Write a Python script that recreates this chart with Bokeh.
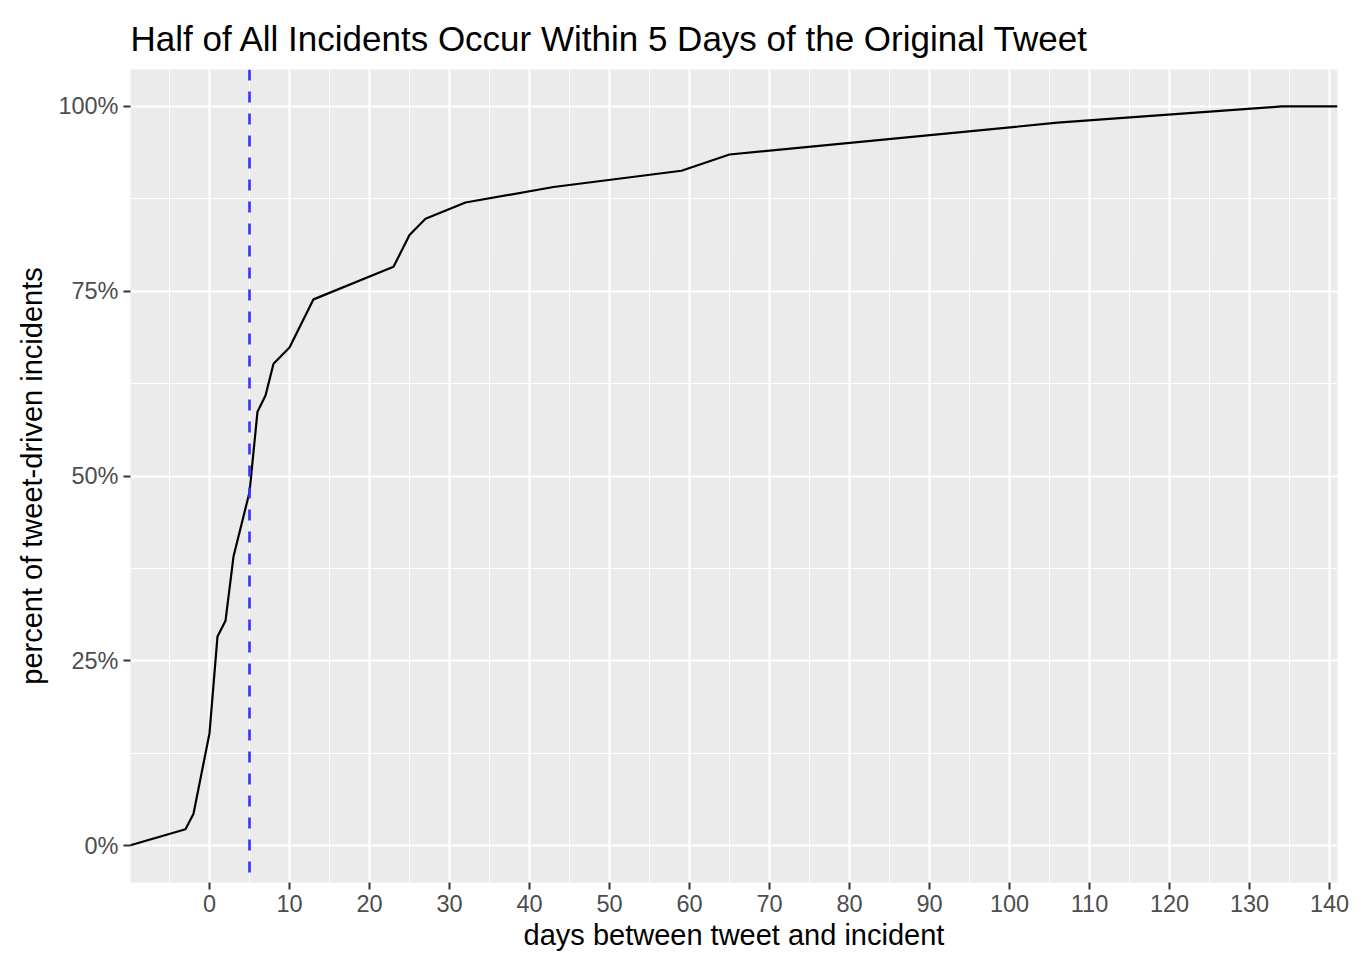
from bokeh.plotting import figure
from bokeh.models import Range1d, FixedTicker, Span
from bokeh.embed import file_html
from bokeh.resources import INLINE

# ---- data ----
days = [-10, -3, -2, 0, 1, 2, 3, 5, 6, 7, 8, 10, 13, 23, 25, 27, 32, 43, 59, 65, 106, 134, 141]
pct = [0.0, 2.2, 4.3, 15.2, 28.3, 30.4, 39.1, 47.8, 58.7, 60.9, 65.2, 67.4, 73.9,
       78.3, 82.6, 84.8, 87.0, 89.1, 91.3, 93.5, 97.8, 100.0, 100.0]
cutoff_day = 5

x_ticks = [0, 10, 20, 30, 40, 50, 60, 70, 80, 90, 100, 110, 120, 130, 140]
x_minor = [-5, 5, 15, 25, 35, 45, 55, 65, 75, 85, 95, 105, 115, 125, 135]
y_ticks = [0, 25, 50, 75, 100]
y_tick_labels = ["0%", "25%", "50%", "75%", "100%"]
y_minor = [12.5, 37.5, 62.5, 87.5]

title_text = "Half of All Incidents Occur Within 5 Days of the Original Tweet"
x_label = "days between tweet and incident"
y_label = "percent of tweet-driven incidents"

FONT = "Liberation Sans"

p = figure(
    frame_width=1207, frame_height=813,
    x_range=Range1d(-9.875, 141), y_range=Range1d(-5, 105),
    output_backend="svg", toolbar_location=None,
    min_border_left=130, min_border_right=27, min_border_top=69, min_border_bottom=86,
)
p.background_fill_color = "#EBEBEB"
p.border_fill_color = "white"
p.outline_line_color = None

p.title.text = title_text
p.title.text_font = FONT
p.title.text_font_size = "35px"
p.title.text_font_style = "normal"
p.title.text_color = "black"
p.title.align = "left"
p.title.standoff = 23

p.xaxis.ticker = FixedTicker(ticks=x_ticks, minor_ticks=x_minor)
p.yaxis.ticker = FixedTicker(ticks=y_ticks, minor_ticks=y_minor)
p.yaxis.major_label_overrides = {t: l for t, l in zip(y_ticks, y_tick_labels)}

for ax in (p.xaxis, p.yaxis):
    ax.axis_line_color = None
    ax.major_tick_line_color = "#333333"
    ax.major_tick_line_width = 2
    ax.major_tick_out = 7
    ax.major_tick_in = 0
    ax.minor_tick_line_color = None
    ax.major_label_text_font = FONT
    ax.major_label_text_font_size = "23.5px"
    ax.major_label_text_color = "#4D4D4D"
    ax.axis_label_text_font = FONT
    ax.axis_label_text_font_size = "29px"
    ax.axis_label_text_font_style = "normal"
    ax.axis_label_text_color = "black"

p.xaxis.axis_label = x_label
p.yaxis.axis_label = y_label
p.xaxis.major_label_standoff = 5
p.yaxis.major_label_standoff = 5
p.xaxis.axis_label_standoff = 4
p.yaxis.axis_label_standoff = 7

for g in (p.xgrid, p.ygrid):
    g.grid_line_color = "white"
    g.grid_line_width = 2.2
    g.minor_grid_line_color = "white"
    g.minor_grid_line_width = 1.1

p.line(days, pct, line_color="black", line_width=2.2)

p.add_layout(Span(location=cutoff_day, dimension="height", line_color="#3333FF",
                  line_width=2.6, line_dash="11 11"))

open("out.html", "w").write(file_html(p, INLINE))
